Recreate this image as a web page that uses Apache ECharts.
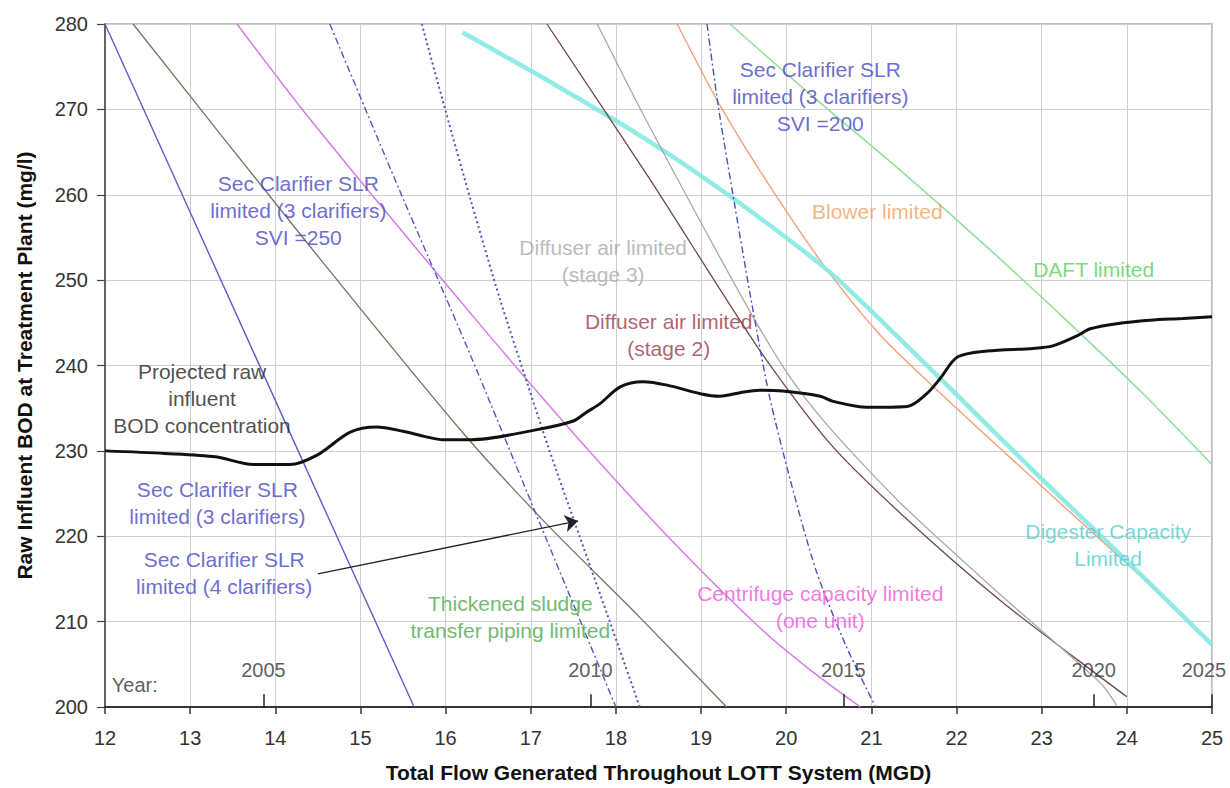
<!DOCTYPE html>
<html>
<head>
<meta charset="utf-8">
<script src="https://cdn.jsdelivr.net/npm/echarts@6/dist/echarts.min.js"></script>
<style>
  html, body { margin: 0; padding: 0; background: #ffffff; }
  #chart { width: 1230px; height: 788px; }
</style>
</head>
<body>
<div id="chart"></div>
<script>
// Treatment plant capacity limits: raw influent BOD (mg/l) against total flow (MGD)

// Projected raw influent BOD concentration [flow, BOD]
const bodProjection = [
  [12.0, 230.0], [12.7, 229.7], [13.3, 229.3], [13.74, 228.4], [14.17, 228.4], [14.49, 229.5],
  [14.88, 232.2], [15.19, 232.8], [15.5, 232.3], [15.75, 231.7], [15.97, 231.3], [16.3, 231.3],
  [17.03, 232.4], [17.5, 233.5], [17.65, 234.5], [17.81, 235.5], [18.05, 237.5], [18.32, 238.1],
  [18.6, 237.7], [18.99, 236.7], [19.22, 236.4], [19.5, 236.9], [19.69, 237.1], [19.96, 237.0],
  [20.4, 236.4], [20.55, 235.8], [20.95, 235.1], [21.42, 235.2], [21.65, 236.7], [21.81, 238.5],
  [22.01, 241.0], [22.36, 241.7], [22.9, 242.0], [23.13, 242.3], [23.42, 243.5], [23.57, 244.3],
  [23.88, 244.9], [24.27, 245.3], [24.66, 245.5], [25.0, 245.7]
];

// Capacity limit curves [flow, BOD]
const clarifier3 = [[12.0, 280], [14.3, 229.3], [15.63, 200]];
const sludgePiping = [[12.33, 280], [14.29, 255.4], [16.17, 232.5], [17.17, 221.6], [18.28, 210.5], [19.3, 200]];
const centrifuge = [[13.55, 280], [14.3, 270.2], [15.2, 259.2], [16.1, 248.4], [17.0, 237.8], [17.9, 227.6], [18.8, 218.0], [19.7, 209.2], [20.3, 204.2], [20.87, 200]];
const clarifier3Svi250 = [[14.64, 280], [15.46, 260.5], [16.25, 242.2], [17.19, 219.5], [18.0, 200]];
const clarifier4 = [[15.72, 280], [16.0, 269.8], [16.3, 259.2], [16.64, 247.7], [16.96, 237.9], [17.2, 230.6], [17.58, 219.8], [17.9, 210.8], [18.28, 200]];
const digester = [[16.2, 279.0], [17.3, 272.8], [18.4, 266.2], [19.4, 259.4], [20.48, 251.2], [21.14, 245.0], [22.01, 236.5], [22.95, 227.2], [24.0, 217.1], [25.0, 207.3]];
const diffuserStage2 = [[17.19, 280], [18.4, 261.8], [19.69, 241.75], [20.51, 230.9], [21.34, 222.7], [22.51, 212.5], [23.69, 203.5], [24.0, 201.2]];
const diffuserStage3 = [[17.78, 280], [18.32, 269.4], [18.99, 256.9], [19.61, 245.7], [20.04, 238.7], [20.51, 232.7], [21.34, 223.9], [22.51, 213.2], [23.69, 202.8], [23.88, 200.2]];
const blower = [[18.72, 280], [19.22, 270.5], [19.84, 260.5], [20.48, 251.2], [21.1, 243.6], [21.57, 239.0], [22.51, 230.3], [23.8, 218.6], [24.4, 213.2]];
const clarifier3Svi200 = [[19.07, 280], [19.2, 270.5], [19.4, 258.5], [19.6, 247.0], [19.8, 236.5], [20.05, 226.5], [20.35, 216.0], [20.7, 207.2], [21.05, 200]];
const daft = [[19.34, 280], [20.3, 271.6], [21.3, 263.2], [22.3, 254.4], [23.3, 245.2], [24.2, 236.6], [25.0, 228.4]];

// Calendar years reached at a given flow
const years = ['2005', '2010', '2015', '2020', '2025'];
const yearFlow = [13.86, 17.70, 20.67, 23.61, 25.0];

const FONT = '"Liberation Sans", Arial, sans-serif';

// Curve labels, anchored at the centre of each text block (data coordinates)
const notes = [
  { text: 'Sec Clarifier SLR\nlimited (3 clarifiers)\nSVI =250', at: [14.27, 258.1], color: '#4646c2' },
  { text: 'Sec Clarifier SLR\nlimited (3 clarifiers)\nSVI =200', at: [20.40, 271.5], color: '#4646c2' },
  { text: 'Blower limited', at: [21.07, 258.0], color: '#f0a264' },
  { text: 'DAFT limited', at: [23.61, 251.3], color: '#58d058' },
  { text: 'Diffuser air limited\n(stage 3)', at: [17.85, 252.2], color: '#a8a8a8' },
  { text: 'Diffuser air limited\n(stage 2)', at: [18.62, 243.6], color: '#9a3a4a' },
  { text: 'Projected raw\ninfluent\nBOD concentration', at: [13.14, 236.15], color: '#222222' },
  { text: 'Sec Clarifier SLR\nlimited (3 clarifiers)', at: [13.32, 223.9], color: '#4646c2' },
  { text: 'Sec Clarifier SLR\nlimited (4 clarifiers)', at: [13.40, 215.7], color: '#4646c2' },
  { text: 'Thickened sludge\ntransfer piping limited', at: [16.76, 210.6], color: '#4aa84a' },
  { text: 'Centrifuge capacity limited\n(one unit)', at: [20.40, 211.7], color: '#f055e0' },
  { text: 'Digester Capacity\nLimited', at: [23.78, 219.0], color: '#55cccc' }
];

// Pointer from the 4-clarifier note to its curve
const pointerFrom = [14.50, 215.6];
const pointerTo = [17.555, 221.8];

function curve(name, data, color, width, type, z, smooth, opacity) {
  return {
    name: name, type: 'line', data: data, showSymbol: false, symbol: 'none',
    smooth: smooth === undefined ? 0.25 : smooth,
    lineStyle: { color: color, width: width, type: type || 'solid', opacity: opacity || 1 },
    z: z || 2, silent: true, animation: false
  };
}

const chart = echarts.init(document.getElementById('chart'), null, { renderer: 'svg' });

chart.setOption({
  backgroundColor: '#ffffff',
  animation: false,
  grid: {
    left: 105, right: 18, top: 24, bottom: 78,
    show: true, borderColor: '#a8a8a8', borderWidth: 1.5, backgroundColor: 'transparent'
  },
  xAxis: {
    type: 'value', min: 12, max: 25, interval: 1,
    name: 'Total Flow Generated Throughout LOTT System (MGD)',
    nameLocation: 'middle', nameGap: 55,
    nameTextStyle: { fontFamily: FONT, fontWeight: 'bold', fontSize: 21, color: '#111' },
    axisLine: { show: true, onZero: false, lineStyle: { color: '#333', width: 2 } },
    axisTick: { show: true, length: 7, lineStyle: { color: '#333', width: 1.5 } },
    axisLabel: { fontFamily: FONT, fontSize: 20, color: '#333', margin: 21 },
    splitLine: { show: true, lineStyle: { color: '#cfcfcf', width: 1 } }
  },
  yAxis: {
    type: 'value', min: 200, max: 280, interval: 10,
    name: 'Raw Influent BOD at Treatment Plant (mg/l)',
    nameLocation: 'middle', nameGap: 70, nameRotate: 90,
    nameTextStyle: { fontFamily: FONT, fontWeight: 'bold', fontSize: 21, color: '#111' },
    axisLine: { show: true, onZero: false, lineStyle: { color: '#444', width: 1.5 } },
    axisTick: { show: true, length: 8, lineStyle: { color: '#444', width: 1.2 } },
    axisLabel: { fontFamily: FONT, fontSize: 20, color: '#333', margin: 17 },
    splitLine: { show: true, lineStyle: { color: '#cfcfcf', width: 1 } }
  },
  series: [
    curve('Blower limited', blower, '#f3a07a', 1.4, 'solid', 2),
    curve('Digester capacity limited', digester, '#86e9e2', 4.5, 'solid', 3, 0.3, 0.9),
    curve('DAFT limited', daft, '#96de96', 1.6, 'solid', 2),
    curve('Sec Clarifier SLR 3 clarifiers', clarifier3, '#5c5cca', 1.4, 'solid', 4, false),
    curve('Thickened sludge piping', sludgePiping, '#6e7a62', 1.3, 'solid', 4),
    curve('Centrifuge capacity', centrifuge, '#d67ee4', 1.5, 'solid', 4),
    curve('Sec Clarifier SLR SVI 250', clarifier3Svi250, '#5656c0', 1.4, [7, 3, 2, 3], 4),
    curve('Sec Clarifier SLR 4 clarifiers', clarifier4, '#4a56b8', 2, [2, 3], 4),
    curve('Diffuser air stage 2', diffuserStage2, '#6e4848', 1.3, 'solid', 4),
    curve('Diffuser air stage 3', diffuserStage3, '#a8a8a8', 1.3, 'solid', 4),
    curve('Sec Clarifier SLR SVI 200', clarifier3Svi200, '#4f4fc0', 1.4, [7, 3, 2, 3], 4),
    curve('Projected raw influent BOD', bodProjection, '#111111', 3, 'solid', 6, 0.3),
    {
      // pointer arrow from the 4-clarifier note to its curve
      name: 'pointer', type: 'line', data: [], silent: true, z: 8,
      markLine: {
        silent: true, animation: false,
        symbol: ['none', 'arrow'], symbolSize: 13,
        itemStyle: { color: '#222' },
        lineStyle: { color: '#222', width: 1.3, type: 'solid' },
        label: { show: false },
        data: [[{ coord: pointerFrom }, { coord: pointerTo }]]
      }
    },
    {
      // curve labels
      name: 'notes', type: 'scatter', symbolSize: 0, silent: true, z: 7, clip: false,
      data: notes.map(n => ({ value: n.at, label: { formatter: n.text, color: n.color } })),
      label: {
        show: true, position: 'inside', align: 'center', verticalAlign: 'middle',
        fontFamily: FONT, fontSize: 21, lineHeight: 27
      }
    },
    {
      // year markers along the flow axis
      name: 'years', type: 'scatter', symbolSize: 0, silent: true, z: 7, clip: false,
      data: yearFlow.map((x, i) => ({
        value: [x, 204.3],
        label: { formatter: years[i], offset: [i === years.length - 1 ? -8 : 0, 0] }
      })).concat([{ value: [12.08, 202.6], label: { formatter: 'Year:', align: 'left' } }]),
      label: {
        show: true, position: 'inside', align: 'center', verticalAlign: 'middle',
        fontFamily: FONT, fontSize: 20, color: '#333'
      },
      markLine: {
        silent: true, animation: false, symbol: ['none', 'none'],
        lineStyle: { color: '#222', width: 1.5, type: 'solid' },
        label: { show: false },
        data: yearFlow.map(x => [{ coord: [x, 200] }, { coord: [x, 201.5] }])
      }
    }
  ]
});
</script>
</body>
</html>
